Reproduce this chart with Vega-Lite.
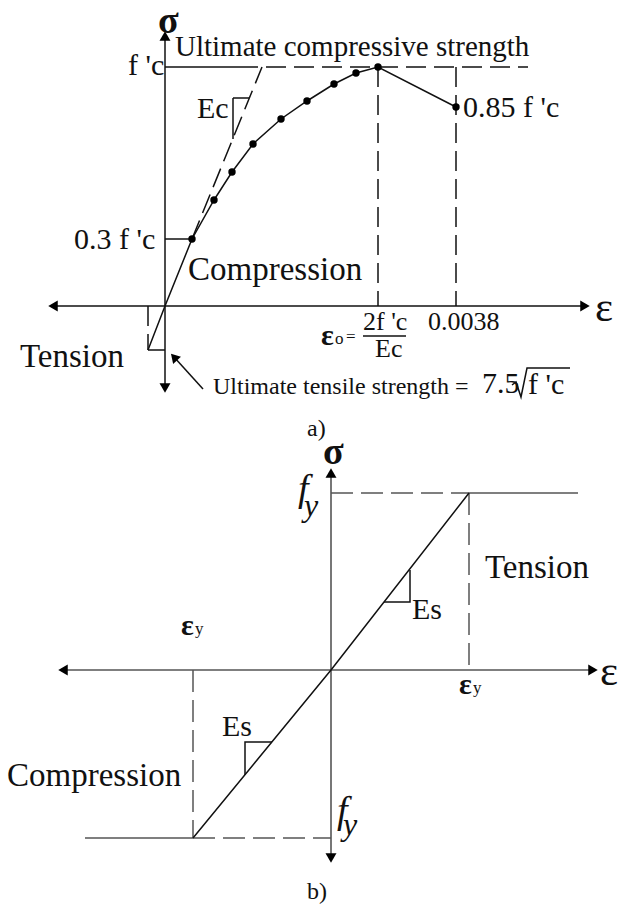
{
  "$schema": "https://vega.github.io/schema/vega-lite/v6.json",
  "width": 624,
  "height": 910,
  "autosize": {"type": "fit", "contains": "padding"},
  "padding": 0,
  "background": "white",
  "config": {"view": {"stroke": null}, "text": {"font": "Liberation Serif", "color": "#111"}},
  "datasets": {
    "solidA": [
      {"x": 165, "y": 36, "x2": 165, "y2": 388},
      {"x": 53, "y": 306, "x2": 585, "y2": 306},
      {"x": 165, "y": 239, "x2": 192, "y2": 239},
      {"x": 165, "y": 67, "x2": 258, "y2": 67},
      {"x": 148, "y": 350, "x2": 165, "y2": 350},
      {"x": 233, "y": 98, "x2": 249, "y2": 98},
      {"x": 233, "y": 98, "x2": 233, "y2": 139},
      {"x": 203, "y": 389, "x2": 174, "y2": 357},
      {"x": 363, "y": 336, "x2": 406, "y2": 336}
    ],
    "grayB": [
      {"x": 331, "y": 473, "x2": 331, "y2": 858},
      {"x": 63, "y": 670, "x2": 593, "y2": 670},
      {"x": 469, "y": 493, "x2": 578, "y2": 493},
      {"x": 85, "y": 838, "x2": 193, "y2": 838}
    ],
    "dashA": [
      {"x": 266, "y": 67, "x2": 528, "y2": 67},
      {"x": 378, "y": 67, "x2": 378, "y2": 306},
      {"x": 456, "y": 67, "x2": 456, "y2": 306},
      {"x": 148, "y": 306, "x2": 148, "y2": 350},
      {"x": 192, "y": 239, "x2": 262, "y2": 67}
    ],
    "dashB": [
      {"x": 331, "y": 493, "x2": 469, "y2": 493},
      {"x": 469, "y": 493, "x2": 469, "y2": 670},
      {"x": 193, "y": 670, "x2": 193, "y2": 838},
      {"x": 193, "y": 838, "x2": 331, "y2": 838}
    ],
    "paths": [
      {"id": "elastic", "o": 0, "x": 148, "y": 350},
      {"id": "elastic", "o": 1, "x": 165, "y": 306},
      {"id": "elastic", "o": 2, "x": 192, "y": 239},
      {"id": "curve", "o": 0, "x": 192, "y": 239},
      {"id": "curve", "o": 1, "x": 214, "y": 200},
      {"id": "curve", "o": 2, "x": 232, "y": 172},
      {"id": "curve", "o": 3, "x": 253, "y": 144},
      {"id": "curve", "o": 4, "x": 281, "y": 119},
      {"id": "curve", "o": 5, "x": 307, "y": 101},
      {"id": "curve", "o": 6, "x": 334, "y": 84},
      {"id": "curve", "o": 7, "x": 356, "y": 73},
      {"id": "curve", "o": 8, "x": 378, "y": 67},
      {"id": "curve", "o": 9, "x": 456, "y": 107},
      {"id": "radical", "o": 0, "x": 512, "y": 385},
      {"id": "radical", "o": 1, "x": 516, "y": 382},
      {"id": "radical", "o": 2, "x": 521, "y": 397},
      {"id": "radical", "o": 3, "x": 527, "y": 368},
      {"id": "radical", "o": 4, "x": 570, "y": 368},
      {"id": "steel", "o": 0, "x": 193, "y": 838},
      {"id": "steel", "o": 1, "x": 331, "y": 670},
      {"id": "steel", "o": 2, "x": 469, "y": 493},
      {"id": "EsUp", "o": 0, "x": 384, "y": 602},
      {"id": "EsUp", "o": 1, "x": 410, "y": 602},
      {"id": "EsUp", "o": 2, "x": 410, "y": 570},
      {"id": "EsLow", "o": 0, "x": 272, "y": 742},
      {"id": "EsLow", "o": 1, "x": 245, "y": 742},
      {"id": "EsLow", "o": 2, "x": 245, "y": 775}
    ],
    "dots": [
      {"x": 192, "y": 239}, {"x": 214, "y": 200}, {"x": 232, "y": 172},
      {"x": 253, "y": 144}, {"x": 281, "y": 119}, {"x": 307, "y": 101},
      {"x": 334, "y": 84}, {"x": 356, "y": 73}, {"x": 378, "y": 67},
      {"x": 456, "y": 107}
    ],
    "heads": [
      {"x": 165, "y": 36, "dir": "up"},
      {"x": 165, "y": 388, "dir": "down"},
      {"x": 53, "y": 306, "dir": "left"},
      {"x": 585, "y": 306, "dir": "right"},
      {"x": 331, "y": 473, "dir": "up"},
      {"x": 331, "y": 858, "dir": "down"},
      {"x": 63, "y": 670, "dir": "left"},
      {"x": 593, "y": 670, "dir": "right"}
    ],
    "pointer": [{"x": 174, "y": 357}],
    "texts": [
      {"role": "region", "label": "Compression", "x": 188, "y": 270},
      {"role": "region", "label": "Tension", "x": 20, "y": 357},
      {"role": "region", "label": "Compression", "x": 7, "y": 776},
      {"role": "region", "label": "Tension", "x": 485, "y": 568},
      {"role": "title", "label": "Ultimate compressive strength", "x": 175, "y": 47},
      {"role": "value", "label": "f 'c", "x": 128, "y": 66},
      {"role": "value", "label": "0.3 f 'c", "x": 74, "y": 240},
      {"role": "value", "label": "0.85 f 'c", "x": 463, "y": 108},
      {"role": "value", "label": "Ec", "x": 197, "y": 109},
      {"role": "value", "label": "Es", "x": 412, "y": 610},
      {"role": "value", "label": "Es", "x": 222, "y": 727},
      {"role": "value", "label": "7.5", "x": 482, "y": 384},
      {"role": "value", "label": "f 'c", "x": 528, "y": 385},
      {"role": "note", "label": "Ultimate tensile strength =", "x": 213, "y": 387},
      {"role": "tick", "label": "0.0038", "x": 428, "y": 322},
      {"role": "tick", "label": "2f 'c", "x": 363, "y": 322},
      {"role": "tick", "label": "Ec", "x": 375, "y": 349},
      {"role": "eps", "label": "ε", "x": 321, "y": 336},
      {"role": "eps", "label": "ε", "x": 181, "y": 626},
      {"role": "eps", "label": "ε", "x": 459, "y": 685},
      {"role": "sub", "label": "o", "x": 335, "y": 339},
      {"role": "sub", "label": "=", "x": 346, "y": 337},
      {"role": "sub", "label": "y", "x": 195, "y": 629},
      {"role": "sub", "label": "y", "x": 473, "y": 688},
      {"role": "symbol", "label": "ε", "x": 595, "y": 308},
      {"role": "symbol", "label": "ε", "x": 600, "y": 672},
      {"role": "greek", "label": "σ", "x": 158, "y": 22},
      {"role": "greek", "label": "σ", "x": 323, "y": 453},
      {"role": "panel", "label": "a)", "x": 307, "y": 429},
      {"role": "panel", "label": "b)", "x": 307, "y": 892},
      {"role": "fy", "label": "f", "x": 298, "y": 501},
      {"role": "fy", "label": "f", "x": 337, "y": 823},
      {"role": "fysub", "label": "y", "x": 304, "y": 516},
      {"role": "fysub", "label": "y", "x": 343, "y": 835}
    ]
  },
  "encoding": {
    "x": {"field": "x", "type": "quantitative", "scale": {"domain": [0, 624], "nice": false, "zero": false}, "axis": null},
    "y": {"field": "y", "type": "quantitative", "scale": {"domain": [0, 910], "nice": false, "zero": false, "reverse": true}, "axis": null}
  },
  "layer": [
    {"data": {"name": "dashA"}, "mark": {"type": "rule", "color": "#111", "strokeWidth": 1.5, "strokeDash": [20, 8]},
     "encoding": {"x2": {"field": "x2"}, "y2": {"field": "y2"}}},
    {"data": {"name": "dashB"}, "mark": {"type": "rule", "color": "#555", "strokeWidth": 1.5, "strokeDash": [22, 8]},
     "encoding": {"x2": {"field": "x2"}, "y2": {"field": "y2"}}},
    {"data": {"name": "solidA"}, "mark": {"type": "rule", "color": "#111", "strokeWidth": 1.5},
     "encoding": {"x2": {"field": "x2"}, "y2": {"field": "y2"}}},
    {"data": {"name": "grayB"}, "mark": {"type": "rule", "color": "#555", "strokeWidth": 1.6},
     "encoding": {"x2": {"field": "x2"}, "y2": {"field": "y2"}}},
    {"data": {"name": "paths"}, "mark": {"type": "line", "color": "#111", "strokeWidth": 1.5},
     "encoding": {"detail": {"field": "id"}, "order": {"field": "o", "type": "quantitative"}}},
    {"data": {"name": "dots"}, "mark": {"type": "point", "shape": "circle", "filled": true, "color": "#000", "size": 55, "opacity": 1}},
    {"data": {"name": "heads"}, "mark": {"type": "point", "filled": true, "color": "#000", "size": 120, "opacity": 1},
     "encoding": {"shape": {"field": "dir", "type": "nominal", "legend": null,
       "scale": {"domain": ["up", "down", "left", "right"], "range": ["triangle-up", "triangle-down", "triangle-left", "triangle-right"]}}}},
    {"data": {"name": "pointer"}, "mark": {"type": "point", "shape": "triangle-up", "angle": 318, "filled": true, "color": "#000", "size": 110, "opacity": 1}},
    {"data": {"name": "texts"}, "transform": [{"filter": "datum.role === 'region'"}],
     "mark": {"type": "text", "align": "left", "baseline": "middle", "fontSize": 33}, "encoding": {"text": {"field": "label"}}},
    {"data": {"name": "texts"}, "transform": [{"filter": "datum.role === 'title'"}],
     "mark": {"type": "text", "align": "left", "baseline": "middle", "fontSize": 29}, "encoding": {"text": {"field": "label"}}},
    {"data": {"name": "texts"}, "transform": [{"filter": "datum.role === 'value'"}],
     "mark": {"type": "text", "align": "left", "baseline": "middle", "fontSize": 30}, "encoding": {"text": {"field": "label"}}},
    {"data": {"name": "texts"}, "transform": [{"filter": "datum.role === 'note'"}],
     "mark": {"type": "text", "align": "left", "baseline": "middle", "fontSize": 24}, "encoding": {"text": {"field": "label"}}},
    {"data": {"name": "texts"}, "transform": [{"filter": "datum.role === 'tick'"}],
     "mark": {"type": "text", "align": "left", "baseline": "middle", "fontSize": 26}, "encoding": {"text": {"field": "label"}}},
    {"data": {"name": "texts"}, "transform": [{"filter": "datum.role === 'eps'"}],
     "mark": {"type": "text", "align": "left", "baseline": "middle", "fontSize": 30, "fontWeight": "bold"}, "encoding": {"text": {"field": "label"}}},
    {"data": {"name": "texts"}, "transform": [{"filter": "datum.role === 'sub'"}],
     "mark": {"type": "text", "align": "left", "baseline": "middle", "fontSize": 17}, "encoding": {"text": {"field": "label"}}},
    {"data": {"name": "texts"}, "transform": [{"filter": "datum.role === 'symbol'"}],
     "mark": {"type": "text", "align": "left", "baseline": "middle", "fontSize": 43}, "encoding": {"text": {"field": "label"}}},
    {"data": {"name": "texts"}, "transform": [{"filter": "datum.role === 'greek'"}],
     "mark": {"type": "text", "align": "left", "baseline": "middle", "fontSize": 38, "fontWeight": "bold"}, "encoding": {"text": {"field": "label"}}},
    {"data": {"name": "texts"}, "transform": [{"filter": "datum.role === 'panel'"}],
     "mark": {"type": "text", "align": "left", "baseline": "middle", "fontSize": 24}, "encoding": {"text": {"field": "label"}}},
    {"data": {"name": "texts"}, "transform": [{"filter": "datum.role === 'fy'"}],
     "mark": {"type": "text", "align": "left", "baseline": "alphabetic", "fontSize": 38, "fontStyle": "italic"}, "encoding": {"text": {"field": "label"}}},
    {"data": {"name": "texts"}, "transform": [{"filter": "datum.role === 'fysub'"}],
     "mark": {"type": "text", "align": "left", "baseline": "alphabetic", "fontSize": 32, "fontStyle": "italic"}, "encoding": {"text": {"field": "label"}}}
  ]
}
